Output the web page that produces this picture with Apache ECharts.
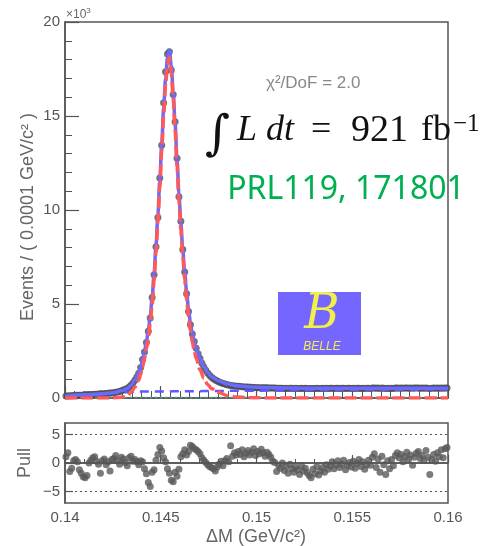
<!DOCTYPE html>
<html><head><meta charset="utf-8">
<script src="https://cdn.jsdelivr.net/npm/echarts@6/dist/echarts.min.js"></script>
<style>html,body{margin:0;padding:0;background:#fff}#c{width:491px;height:546px}</style>
</head><body><div id="c"></div>
<script>
// ---- data (events in thousands per 0.0001 GeV/c^2 bin) ----
const binStart = 0.14;
const binWidth = 0.0001;
const events = [
0.10,0.11,0.12,0.12,0.13,0.14,0.14,0.15,0.15,0.16,
0.17,0.17,0.18,0.18,0.19,0.20,0.20,0.21,0.22,0.22,
0.23,0.24,0.25,0.26,0.27,0.28,0.30,0.32,0.35,0.38,
0.42,0.46,0.51,0.58,0.68,0.80,0.95,1.12,1.32,1.62,
2.05,2.45,2.95,3.55,4.25,5.35,6.55,8.05,9.6,11.7,
13.45,15.7,17.35,18.3,18.42,17.45,16.15,14.7,12.75,10.7,
9.4,7.9,6.7,5.55,4.6,3.9,3.4,3.0,2.65,2.35,
2.1,1.85,1.65,1.48,1.33,1.21,1.11,1.03,0.96,0.9,
0.85,0.81,0.77,0.74,0.71,0.69,0.67,0.65,0.64,0.63,
0.62,0.61,0.60,0.59,0.58,0.58,0.57,0.57,0.56,0.56,
0.55,0.55,0.55,0.54,0.54,0.54,0.53,0.53,0.53,0.53,
0.52,0.52,0.52,0.52,0.51,0.52,0.51,0.52,0.52,0.51,
0.52,0.51,0.51,0.52,0.51,0.52,0.51,0.51,0.50,0.51,
0.51,0.52,0.51,0.51,0.52,0.51,0.52,0.51,0.52,0.52,
0.51,0.52,0.52,0.51,0.52,0.52,0.51,0.52,0.52,0.51,
0.52,0.51,0.52,0.52,0.51,0.52,0.51,0.52,0.52,0.51,
0.53,0.53,0.52,0.53,0.51,0.53,0.52,0.51,0.52,0.51,
0.52,0.51,0.53,0.53,0.52,0.53,0.52,0.53,0.53,0.52,
0.53,0.52,0.53,0.53,0.53,0.52,0.53,0.52,0.53,0.52,
0.51,0.52,0.53,0.52,0.53,0.52,0.53,0.52,0.53,0.53
];
const pulls = [
1.1,1.8,-1.5,-0.9,0.4,0.6,0.2,-1.2,-1.8,-2.4,
-2.6,-2.2,0.0,0.5,0.9,1.1,0.3,-0.2,-1.8,0.4,
0.7,-0.3,0.2,-1.4,0.6,0.8,1.3,0.4,-0.2,1.0,
0.7,0.1,-0.5,0.9,1.2,0.3,0.6,0.2,-0.3,0.4,
0.2,-1.0,-1.9,-3.4,-4.1,-1.6,-1.2,0.5,1.5,2.7,
2.1,0.9,0.2,-1.0,-1.8,-3.0,-3.3,-1.6,-2.3,-1.1,
1.1,1.6,2.3,1.4,2.0,3.1,2.9,2.5,2.3,2.0,
1.6,0.9,0.5,0.1,-0.3,-0.6,-0.8,-1.0,-1.4,-0.7,
-0.2,0.3,-0.5,0.4,0.8,0.2,3.0,1.2,1.8,1.4,
2.0,1.5,2.3,1.1,1.7,2.2,1.4,1.9,2.5,1.3,
2.0,1.6,2.4,1.8,1.2,1.9,1.5,1.0,0.3,0.1,
-1.5,-0.4,-0.9,0.0,-1.3,-0.6,-1.8,-0.2,-1.0,-1.6,
-0.7,-1.2,-2.0,-0.5,-1.4,-0.9,-1.7,-2.2,-2.6,-1.1,
-1.9,-0.6,-2.1,-1.4,-0.8,-1.6,-0.3,-1.1,-0.5,0.2,
-1.0,-0.3,0.4,-0.8,-0.2,0.5,-1.2,-0.4,0.1,-0.7,
0.3,-0.9,-0.1,0.6,-0.6,0.2,-1.1,-0.3,0.5,-0.4,
1.0,1.6,-0.8,0.7,-1.6,1.2,-0.3,-2.0,0.4,-1.0,
0.6,-0.5,1.3,1.8,0.9,1.5,0.2,1.1,1.9,0.7,
1.4,-0.4,1.0,1.7,2.0,0.8,1.3,0.5,2.2,1.0,
-2.0,0.6,1.5,0.3,1.8,1.1,2.3,0.9,2.5,2.7
];
// fit curves (thousands)
const fitX = [0.1400,0.1410,0.1420,0.1425,0.1430,0.14325,0.14345,0.14365,0.14385,0.14395,
0.14405,0.14415,0.14425,0.14435,0.14445,0.14455,0.14465,0.14475,0.14485,0.14495,
0.14505,0.14515,0.14525,0.14535,0.14545,0.14555,0.14565,0.14575,0.14585,0.14595,
0.14605,0.14615,0.14625,0.14635,0.14645,0.14655,0.14665,0.14675,0.14685,
0.14705,0.14725,0.14745,0.14765,
0.1480,0.1485,0.1490,0.1495,0.1500,
0.1510,0.1520,0.1530,0.1550,0.1570,0.1600];
const fitTotal = [0.10,0.17,0.23,0.28,0.40,0.51,0.68,0.95,1.32,1.62,
2.02,2.48,2.98,3.6,4.35,5.35,6.6,8.1,9.75,11.6,
13.5,15.4,17.0,18.1,18.5,17.7,16.3,14.6,12.7,10.9,
9.3,7.9,6.7,5.65,4.75,4.0,3.4,2.95,2.6,
2.1,1.68,1.36,1.13,
0.92,0.74,0.65,0.60,0.57,
0.54,0.53,0.52,0.52,0.52,0.52];
const fitSignal = [0,0,0,0.01,0.05,0.12,0.30,0.58,0.95,1.25,
1.65,2.1,2.6,3.22,3.97,4.97,6.22,7.72,9.37,11.22,
13.12,15.02,16.62,17.72,18.12,17.32,15.92,14.22,12.32,10.52,
8.92,7.52,6.32,5.25,4.35,3.6,2.98,2.5,2.1,
1.5,1.05,0.72,0.5,
0.3,0.12,0.05,0.02,0.01,
0,0,0,0,0,0];
const fitBkg = [0.09,0.16,0.22,0.26,0.30,0.31,0.32,0.33,0.34,0.34,
0.35,0.35,0.35,0.35,0.35,0.35,0.35,0.35,0.35,0.35,
0.35,0.35,0.35,0.35,0.35,0.36,0.36,0.36,0.36,0.36,
0.36,0.36,0.36,0.36,0.36,0.36,0.36,0.36,0.36,
0.36,0.37,0.37,0.37,
0.37,0.38,0.38,0.39,0.39,
0.40,0.41,0.42,0.43,0.44,0.45];
const fitOtherX = [0.1400,0.1600];
const fitOther = [0.03,0.03];
const xTicks = [0.14,0.145,0.15,0.155,0.16];
const yTicksMain = [0,5,10,15,20];
const pullTicks = [-5,0,5];

// ---- build ----
const binX = events.map((_, i) => +(binStart + (i + 0.5) * binWidth).toFixed(5));
const evData = events.map((v, i) => [binX[i], v]);
const pullData = pulls.map((v, i) => [binX[i], v]);
const pair = (xs, ys) => xs.map((x, i) => [x, ys[i]]);

const AX = '#555';
const FONT = 'Liberation Sans';
const chart = echarts.init(document.getElementById('c'), null, {renderer: 'canvas'});
chart.setOption({
  animation: false,
  backgroundColor: '#fff',
  grid: [
    {left: 65, top: 22, width: 383, height: 376, show: true, borderColor: AX, borderWidth: 1.5, backgroundColor: 'transparent'},
    {left: 65, top: 423, width: 383, height: 80, show: true, borderColor: AX, borderWidth: 1.5, backgroundColor: 'transparent'}
  ],
  xAxis: [
    {gridIndex: 0, type: 'value', min: xTicks[0], max: xTicks[xTicks.length-1], interval: 0.005,
     axisLine: {lineStyle: {color: AX, width: 1.5}},
     axisTick: {inside: true, length: 12, lineStyle: {color: AX, width: 1.2}},
     minorTick: {show: true, splitNumber: 10, length: 7, lineStyle: {color: AX, width: 1}},
     axisLabel: {show: false}, splitLine: {show: false}},
    {gridIndex: 1, type: 'value', min: xTicks[0], max: xTicks[xTicks.length-1], interval: 0.005,
     axisLine: {lineStyle: {color: AX, width: 1.5}},
     axisTick: {inside: true, length: 8, lineStyle: {color: AX, width: 1.2}},
     minorTick: {show: true, splitNumber: 5, length: 4, lineStyle: {color: AX, width: 1}},
     axisLabel: {color: AX, fontSize: 15, fontFamily: FONT, margin: 7,
       formatter: v => String(+(+v).toFixed(3))},
     splitLine: {show: false}}
  ],
  yAxis: [
    {gridIndex: 0, type: 'value', min: yTicksMain[0], max: yTicksMain[yTicksMain.length-1], interval: 5,
     axisLine: {show: true, lineStyle: {color: AX, width: 1.5}},
     axisTick: {inside: true, length: 14, lineStyle: {color: AX, width: 1.2}},
     minorTick: {show: true, splitNumber: 5, length: 7, lineStyle: {color: AX, width: 1}},
     axisLabel: {color: AX, fontSize: 15, fontFamily: FONT, margin: 5},
     splitLine: {show: false}},
    {gridIndex: 1, type: 'value', min: -7, max: 7,
     axisLine: {show: true, lineStyle: {color: AX, width: 1.5}},
     axisTick: {inside: true, length: 8, customValues: pullTicks, lineStyle: {color: AX, width: 1.2}},
     axisLabel: {color: AX, fontSize: 15, fontFamily: FONT, margin: 5, customValues: pullTicks,
       formatter: v => v < 0 ? '\u2212' + (-v) : String(v)},
     splitLine: {show: false}}
  ],
  series: [
    {type: 'scatter', xAxisIndex: 0, yAxisIndex: 0, data: evData, symbolSize: 7,
     itemStyle: {color: '#4f4f4f'}, z: 2, silent: true},
    {type: 'line', xAxisIndex: 0, yAxisIndex: 0, data: pair(fitX, fitBkg), showSymbol: false,
     lineStyle: {color: '#5a5aff', width: 2.5, type: [9, 6]}, z: 3, silent: true},
    {type: 'line', xAxisIndex: 0, yAxisIndex: 0, data: pair(fitOtherX, fitOther), showSymbol: false,
     lineStyle: {color: '#3aa88e', width: 1.5, type: [2, 3]}, z: 3, silent: true},
    {type: 'line', xAxisIndex: 0, yAxisIndex: 0, data: pair(fitX, fitTotal), showSymbol: false,
     smooth: 0.3, smoothMonotone: 'x',
     lineStyle: {color: '#6a6aff', width: 3.5}, z: 4, silent: true},
    {type: 'line', xAxisIndex: 0, yAxisIndex: 0, data: pair(fitX, fitSignal), showSymbol: false,
     smooth: 0.3, smoothMonotone: 'x',
     lineStyle: {color: '#ff5a5a', width: 3.5, type: [12, 4]}, z: 5, silent: true},
    {type: 'scatter', xAxisIndex: 1, yAxisIndex: 1, data: pullData, symbolSize: 7,
     itemStyle: {color: '#5a5a5a'}, z: 3, silent: true,
     markLine: {silent: true, symbol: 'none', label: {show: false},
       data: [
         {yAxis: 5, lineStyle: {color: AX, type: [2, 3], width: 1.2}},
         {yAxis: -5, lineStyle: {color: AX, type: [2, 3], width: 1.2}},
         {yAxis: 0, lineStyle: {color: AX, type: 'solid', width: 1.5}}
       ]}}
  ],
  graphic: [
    {type: 'text', x: 66, y: 22, style: {text: '\u00d710{s|3}', fill: '#666', font: '12px "Liberation Sans"', verticalAlign: 'bottom',
      rich: {s: {fontSize: 8, verticalAlign: 'top', fill: '#666', padding: [0,0,7,0]}}}},
    {type: 'text', x: 28, y: 217, rotation: Math.PI/2, style: {text: 'Events / ( 0.0001 GeV/c\u00b2 )', fill: '#666', font: '18px "Liberation Sans"', align: 'center', verticalAlign: 'middle'}},
    {type: 'text', x: 25, y: 463, rotation: Math.PI/2, style: {text: 'Pull', fill: '#666', font: '18px "Liberation Sans"', align: 'center', verticalAlign: 'middle'}},
    {type: 'text', x: 256, y: 537, style: {text: '\u0394M (GeV/c\u00b2)', fill: '#666', font: '18px "Liberation Sans"', align: 'center', verticalAlign: 'middle'}},
    {type: 'text', x: 266, y: 83, style: {text: '\u03c7\u00b2/DoF = 2.0', fill: '#888', font: '17px "Liberation Sans"', align: 'left', verticalAlign: 'middle'}},
    {type: 'text', x: 205, y: 137, style: {text: '\u222b', fill: '#111', font: '48px "DejaVu Serif"', align: 'left', verticalAlign: 'middle'}},
    {type: 'text', x: 237, y: 131, style: {text: 'L dt', fill: '#111', font: 'italic 36px "Liberation Serif"', align: 'left', verticalAlign: 'middle'}},
    {type: 'text', x: 311, y: 131, style: {text: '=', fill: '#111', font: '36px "Liberation Serif"', align: 'left', verticalAlign: 'middle'}},
    {type: 'text', x: 351, y: 131, style: {text: '921', fill: '#111', font: '38px "Liberation Serif"', align: 'left', verticalAlign: 'middle'}},
    {type: 'text', x: 421, y: 131, style: {text: 'fb', fill: '#111', font: '36px "Liberation Serif"', align: 'left', verticalAlign: 'middle'}},
    {type: 'text', x: 453, y: 124, style: {text: '\u22121', fill: '#111', font: '25px "Liberation Serif"', align: 'left', verticalAlign: 'middle'}},
    {type: 'text', x: 346, y: 190, style: {text: 'PRL119, 171801', fill: '#00b050', font: '32px "Noto Sans"', align: 'center', verticalAlign: 'middle'}},
    {type: 'rect', shape: {x: 278, y: 292, width: 83, height: 63}, style: {fill: '#7466ff'}},
    {type: 'text', x: 322, y: 316, style: {text: 'B', fill: '#f2ee4a', font: 'italic 48px "DejaVu Serif"', align: 'center', verticalAlign: 'middle'}},
    {type: 'text', x: 322, y: 347, style: {text: 'BELLE', fill: '#f2ee4a', font: 'italic 12px "Liberation Sans"', align: 'center', verticalAlign: 'middle'}}
  ]
});
</script></body></html>
